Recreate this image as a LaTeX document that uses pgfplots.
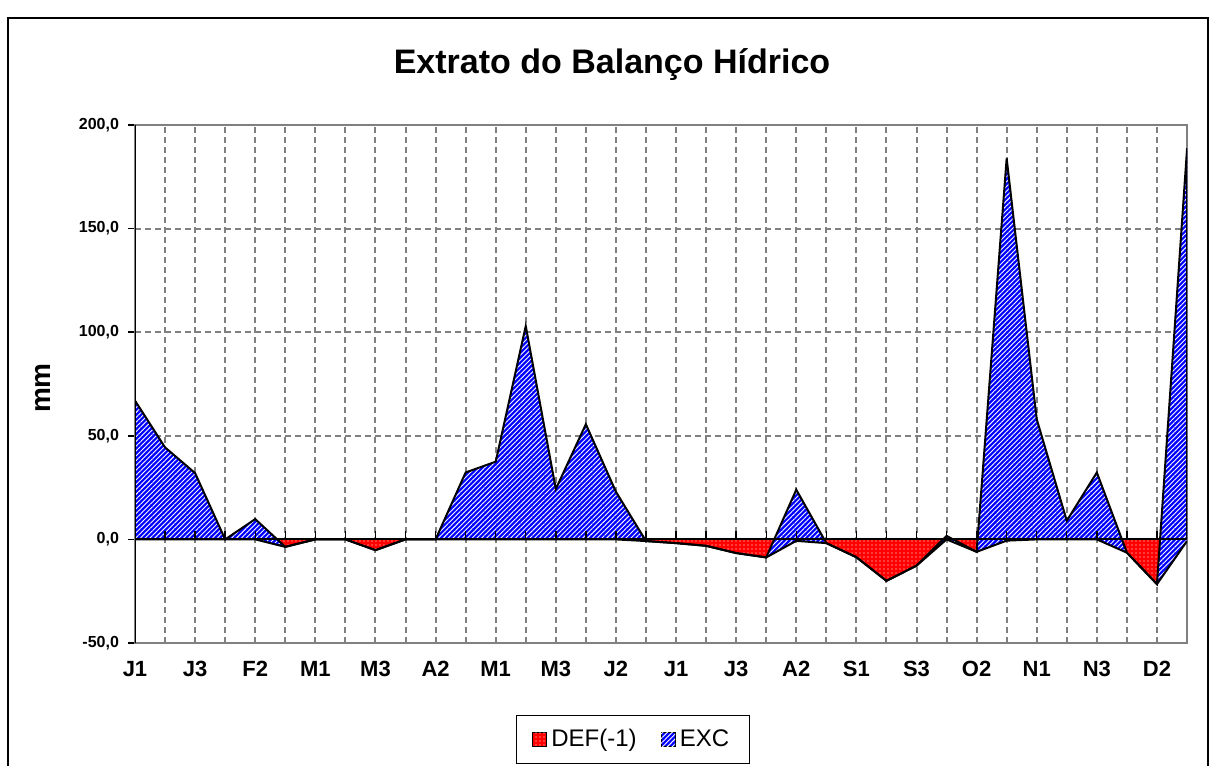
\documentclass[border=0pt]{standalone}
\usepackage{pgfplots}
\pgfplotsset{compat=1.18}
\usepackage{pgfplotstable}
\usepackage{fontspec}
\setmainfont{Liberation Sans}
\usetikzlibrary{patterns.meta}
\usepgfplotslibrary{fillbetween}

\pgfplotstableread{
x def exc
0 0 67
1 0 44.4
2 0 32
3 0 0
4 0 9.8
5 -3.6 0
6 0 0
7 0 0
8 -5.2 0
9 0 0
10 0 0
11 0 32.3
12 0 37.5
13 0 103
14 0 24.3
15 0 55.6
16 0 23
17 -0.8 0
18 -1.8 0
19 -3.1 0
20 -6.6 0
21 -8.7 0
22 -0.7 24.7
23 -1.8 0
24 -8.6 0
25 -20 0
26 -12.7 0
27 0 1.7
28 -6 0
29 -0.6 184.5
30 0 58
31 0 9
32 0 32.3
33 -6.4 0
34 -21.6 0
35 -0.8 189
}\datatable

\definecolor{gridgray}{RGB}{128,128,128}

\begin{document}
\begin{tikzpicture}
\begin{axis}[
  at={(0,0)}, anchor=south west,
  scale only axis, width=526pt, height=259pt,
  xmin=0, xmax=35, ymin=-50, ymax=200,
  xtick={0,2,...,34},
  xticklabels={J1,J3,F2,M1,M3,A2,M1,M3,J2,J1,J3,A2,S1,S3,O2,N1,N3,D2},
  minor xtick={1,3,...,35},
  ytick={-50,0,...,200},
  xmajorgrids, xminorgrids, ymajorgrids,
  major grid style={gridgray, line width=1pt, dash pattern=on 3pt off 2pt},
  minor grid style={gridgray, line width=1pt, dash pattern=on 3pt off 2pt},
  axis line style={gridgray, line width=0.8pt},
  xtick style={draw=none},
  minor x tick style={draw=none},
  ytick style={black, line width=0.8pt},
  ytick pos=left,
  tick align=outside, major tick length=3.5pt,
  /pgf/number format/assume math mode=true,
  yticklabel={\pgfmathprintnumber[fixed,fixed zerofill,precision=1,use comma]{\tick}},
  yticklabel style={font=\bfseries\fontsize{8}{9.6}\selectfont, xshift=-1pt},
  xticklabel style={font=\bfseries\fontsize{11}{13}\selectfont, yshift=-2pt},
  legend style={at={(0.473,-0.139)}, anchor=north, legend columns=2,
    draw=black, line width=0.5pt, font=\fontsize{12}{14}\selectfont,
    inner xsep=8pt, inner ysep=5pt,
    /tikz/every even column/.append style={column sep=10pt}},
  area legend/.style={legend image code/.code={\draw[##1, draw=black, line width=0.6pt] (0pt,-3.5pt) rectangle (7pt,3.5pt);}},
  legend image code/.code={\draw[#1, draw=black, line width=0.6pt] (0pt,-3.5pt) rectangle (7pt,3.5pt);},
]
\path[name path=zero] (axis cs:0,0) -- (axis cs:35,0);
\addplot[name path=d, draw=none, forget plot] table[x=x, y=def] {\datatable};
\addplot[name path=t, draw=none, forget plot] table[x=x, y expr=\thisrow{def}+\thisrow{exc}] {\datatable};
\addplot[fill=red, draw=none,
  postaction={pattern={Dots[distance=2pt, radius=0.35pt]}, pattern color=white}]
  fill between[of=zero and d];
\addlegendentry{DEF(-1)}
\addplot[fill=blue, draw=none,
  postaction={pattern={Lines[angle=45, distance=1.7pt, line width=0.45pt]}, pattern color=white}]
  fill between[of=d and t];
\addlegendentry{EXC}
\addplot[black, line width=1pt, forget plot] table[x=x, y=def] {\datatable};
\addplot[black, line width=1pt, forget plot] table[x=x, y expr=\thisrow{def}+\thisrow{exc}] {\datatable};
\draw[black, line width=1pt] (axis cs:0,-50) -- (axis cs:0,200);
\draw[black, line width=1pt] (axis cs:0,0) -- (axis cs:35,0);
\draw[black, line width=1pt] (axis cs:35,0) -- (axis cs:35,189);
\pgfplotsinvokeforeach{1,...,34}{\draw[black, line width=0.7pt] (axis cs:#1,0) -- ([yshift=4pt]axis cs:#1,0);}
\end{axis}
\node[font=\bfseries\fontsize{17}{20}\selectfont] at (238.5pt,289pt) {Extrato do Balanço Hídrico};
\node[font=\bfseries\fontsize{14}{16}\selectfont, rotate=90] at (-46pt,127.5pt) {mm};
\draw[black, line width=1pt] (-63.5pt,-80pt) rectangle (536.5pt,312.5pt);
\pgfresetboundingbox
\path[use as bounding box] (-67.5pt,-61pt) rectangle (541.5pt,321.5pt);
\end{tikzpicture}
\end{document}
